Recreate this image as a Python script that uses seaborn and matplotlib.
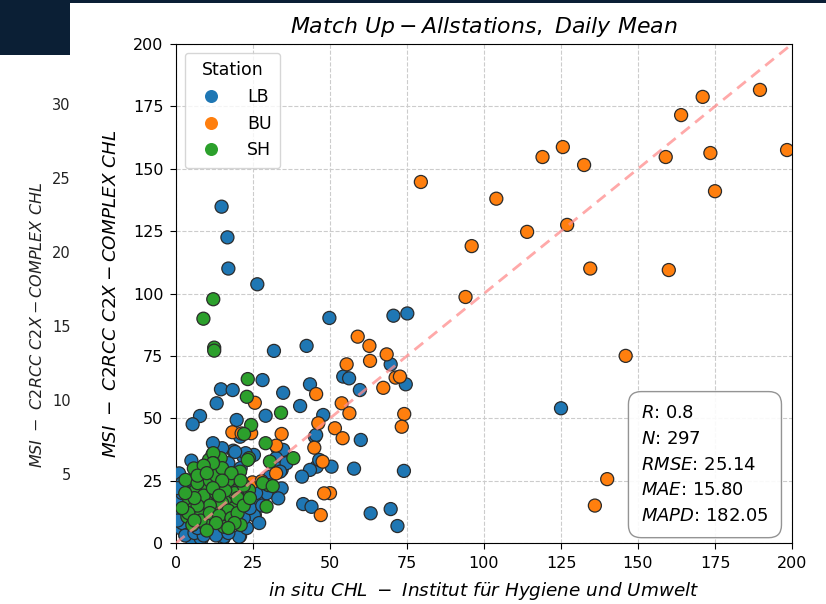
import matplotlib
matplotlib.use("Agg")
import matplotlib.pyplot as plt
import seaborn as sns
import pandas as pd
from matplotlib.patches import Rectangle

# ---------------- data ----------------
stations = ["LB", "BU", "SH"]

lb_x = [14.8, 16.7, 17.0, 26.4, 49.8, 70.6, 75.1, 125.0,
        31.8, 42.4, 69.7, 54.3, 56.2, 28.1, 43.5, 74.6, 59.7, 34.8, 40.3, 29.1,
        47.8, 60.0, 50.5, 57.8, 74.0, 63.2, 69.7, 71.9, 14.6, 18.4, 13.2, 7.8,
        5.4, 19.7, 20.8, 18.6, 21.9, 32.9, 34.8, 45.1, 45.7, 43.5, 34.3, 30.5,
        34.3, 29.4, 33.2, 41.3, 44.0, 25.6, 20.8, 12.1, 15.4, 8.3, 5.1, 1.3,
        1.3, 0.0, 25.3, 1.0, 0.4, 1.5, 1.5, 11.3, 15.6, 20.5, 8.0, 25.3, 26.4,
        32.5, 33.5, 40.9, 46.5, 45.5, 35.9, 33.8, 22.6, 19.2,
        2.0, 3.0, 4.0, 6.0, 2.0, 3.0, 6.0, 9.0, 4.0, 2.0, 0.5, 0.5, 7.0, 10.0,
        13.0, 17.0, 23.0, 22.0, 27.0, 24.0, 28.0, 26.0, 21.0, 17.0, 15.0, 12.0,
        8.0, 5.0]
lb_y = [134.8, 122.5, 110.0, 103.7, 90.2, 91.1, 92.0, 54.0,
        77.0, 79.0, 71.6, 66.7, 66.0, 65.3, 63.6, 63.6, 61.3, 60.2, 54.9, 51.0,
        51.3, 41.3, 30.6, 29.8, 28.9, 11.9, 13.6, 6.8, 61.6, 61.3, 56.0, 50.9,
        47.6, 49.3, 42.6, 37.0, 34.6, 38.0, 37.3, 42.6, 30.6, 29.3, 29.3, 26.6,
        21.9, 19.9, 17.9, 15.6, 14.5, 11.2, 2.8, 5.9, 1.9, 1.5, 1.5, 12.0,
        6.5, 16.0, 35.3, 27.9, 17.2, 13.2, 5.9, 5.2, 2.5, 2.5, 1.9, 11.2, 16.6,
        34.0, 29.9, 26.6, 33.3, 43.3, 32.0, 28.6, 36.0, 36.5,
        20.0, 22.0, 15.0, 10.0, 8.0, 3.0, 4.0, 3.0, 25.0, 24.0, 22.0, 9.0, 6.0, 8.0,
        3.0, 4.0, 6.0, 10.0, 8.0, 14.0, 15.0, 20.0, 30.0, 32.0, 38.0, 40.0,
        30.0, 33.0]

bu_x = [79.5, 96.0, 94.0, 104.0, 114.0, 119.0, 125.6, 132.5, 127.0, 134.5,
        146.0, 140.0, 136.0, 159.0, 160.0, 164.0, 171.0, 173.5, 175.0, 189.6,
        198.4,
        59.0, 62.8, 68.4, 63.0, 55.4, 71.3, 67.3, 45.5, 25.6, 53.8, 56.3, 74.1,
        46.2, 51.6, 73.3, 54.1, 50.0, 34.3, 18.3, 21.3, 32.5, 44.9, 47.6, 32.5,
        24.8, 27.8, 48.1, 47.0, 72.7, 24.4]
bu_y = [144.7, 119.0, 98.6, 138.0, 124.7, 154.7, 158.7, 151.5, 127.5, 110.0,
        75.0, 25.6, 15.0, 154.7, 109.4, 171.5, 178.8, 156.3, 141.0, 181.6,
        157.5,
        82.7, 79.0, 75.6, 73.0, 71.6, 66.3, 62.2, 59.7, 56.2, 56.0, 52.0, 51.7,
        48.0, 46.0, 46.6, 42.0, 20.0, 43.7, 44.4, 43.9, 39.0, 38.2, 32.6, 27.9,
        24.3, 24.8, 19.9, 11.2, 66.7, 44.0]

sh_x = [12.1, 8.9, 12.4, 12.4, 23.3, 23.0, 34.1, 24.4, 22.1, 29.1, 38.1, 30.5,
        23.7, 29.4, 15.4,
        11.8, 14.5, 10.7, 5.8, 12.3, 9.1, 20.5, 16.7, 3.1, 6.4, 10.2, 14.5, 18.8,
        21.5, 4.2, 8.0, 12.3, 16.7, 19.9, 5.8, 10.2, 14.5, 18.8, 3.7, 8.0, 12.3,
        16.1, 9.1, 15.6, 5.3, 21.0, 23.7,
        12.1, 12.1, 20.8, 9.4, 18.6, 30.0, 28.2, 31.4, 23.3,
        7, 11, 13, 15, 17, 19, 20, 22, 9, 13, 15, 17, 11, 7, 6, 4, 8, 11, 14,
        18, 20, 13, 10, 6, 2, 3, 16, 18, 12, 9, 7, 15, 21, 22, 24, 19, 17, 12,
        10, 14]
sh_y = [97.7, 89.9, 78.3, 77.1, 65.7, 58.6, 52.2, 47.3, 43.7, 40.0, 34.0, 32.6,
        34.0, 14.6, 7.2,
        35.3, 34.0, 33.3, 29.9, 29.9, 26.6, 27.9, 27.3, 25.3, 21.2, 21.9, 22.6,
        23.9, 19.9, 17.9, 17.2, 17.9, 17.9, 15.9, 13.9, 13.9, 14.6, 13.9, 10.5,
        11.2, 10.5, 10.5, 7.9, 6.5, 7.2, 7.2, 21.2,
        36.0, 32.0, 28.6, 26.6, 25.9, 23.2, 24.0, 22.8, 33.3,
        24, 25, 27, 30, 25, 20, 18, 23, 19, 20, 16, 13, 15, 15, 18, 12, 9, 12,
        11, 10, 12, 8, 5, 9, 14, 20, 21, 28, 32, 31, 27, 25, 25, 15, 18, 8, 6,
        22, 28, 19]

stats_lines = ["$R$: 0.8", "$N$: 297", "$RMSE$: 25.14", "$MAE$: 15.80",
               "$MAPD$: 182.05"]
ghost_ticks = ["300", "250", "200", "150", "100", "50"]

# ---------------- frame ----------------
df = pd.DataFrame({
    "x": lb_x + bu_x + sh_x,
    "y": lb_y + bu_y + sh_y,
    "Station": ["LB"] * len(lb_x) + ["BU"] * len(bu_x) + ["SH"] * len(sh_x),
})

W, H = 826, 604
fig = plt.figure(figsize=(W / 100, H / 100), dpi=100, facecolor="white")

# background (screenshot remnants)
navy = "#0b1f35"
fig.patches.append(Rectangle((0, 1 - 55 / H), 70 / W, 55 / H, transform=fig.transFigure,
                             facecolor=navy, edgecolor="none", zorder=-3))
fig.patches.append(Rectangle((0, 1 - 3 / H), 1, 3 / H, transform=fig.transFigure,
                             facecolor=navy, edgecolor="none", zorder=-3))
for i, t in enumerate(ghost_ticks):
    fig.text(80 / W, 1 - (106 + i * 73.8) / H, t, ha="right", va="center",
             fontsize=10.5, color="#222222", zorder=-3)
fig.text(37 / W, 1 - 325 / H, r"$MSI\ -\ C2RCC\ C2X-COMPLEX\ CHL$", rotation=90,
         ha="center", va="center", fontsize=11.5, color="#222222", zorder=-3)
fig.patches.append(Rectangle((70 / W, 0), 1, 1 - 3 / H, transform=fig.transFigure,
                             facecolor="white", edgecolor="none", zorder=-2))

ax = fig.add_axes([176 / W, 1 - 543 / H, (792 - 176) / W, (543 - 44) / H])
ax.set_facecolor("white")

palette = {"LB": "#1f77b4", "BU": "#ff7f0e", "SH": "#2ca02c"}
sns.scatterplot(data=df, x="x", y="y", hue="Station", hue_order=stations,
                palette=palette, s=88, edgecolor="#2b2b2b", linewidth=0.9,
                ax=ax, zorder=3)

ax.plot([0, 200], [0, 200], linestyle="--", color="#ff8c8c", alpha=0.75, lw=2,
        dashes=(4, 2.5), zorder=4)

ax.set_xlim(0, 200)
ax.set_ylim(0, 200)
ax.set_xticks(range(0, 201, 25))
ax.set_yticks(range(0, 201, 25))
ax.tick_params(labelsize=11.5, length=4.5, pad=4.5)
ax.grid(True, linestyle="--", color="#cccccc", linewidth=0.8)
ax.set_axisbelow(True)
for sp in ax.spines.values():
    sp.set_color("black")

ax.set_title(r"$Match\ Up-Allstations,\ Daily\ Mean$", fontsize=15.8, pad=8)
ax.set_xlabel(r"$in\ situ\ CHL\ -\ Institut\ für\ Hygiene\ und\ Umwelt$",
              fontsize=13.2, labelpad=7)
ax.set_ylabel(r"$MSI\ -\ C2RCC\ C2X-COMPLEX\ CHL$", fontsize=13.2, labelpad=9)

leg = ax.legend(title="Station", loc="upper left", fontsize=12.5, title_fontsize=12.5,
                handletextpad=1.1, borderpad=0.5, markerscale=1.0)
for h in leg.legend_handles:
    try:
        h.set_markeredgecolor("none")
    except AttributeError:
        pass

ax.text(0.755, 0.036, "\n".join(stats_lines), transform=ax.transAxes,
        fontsize=13, va="bottom", ha="left", linespacing=1.55, zorder=6,
        bbox=dict(boxstyle="round,pad=0.7", facecolor="white", edgecolor="#888888",
                  alpha=0.9))

fig.savefig("out.png", dpi=100, facecolor="white")
